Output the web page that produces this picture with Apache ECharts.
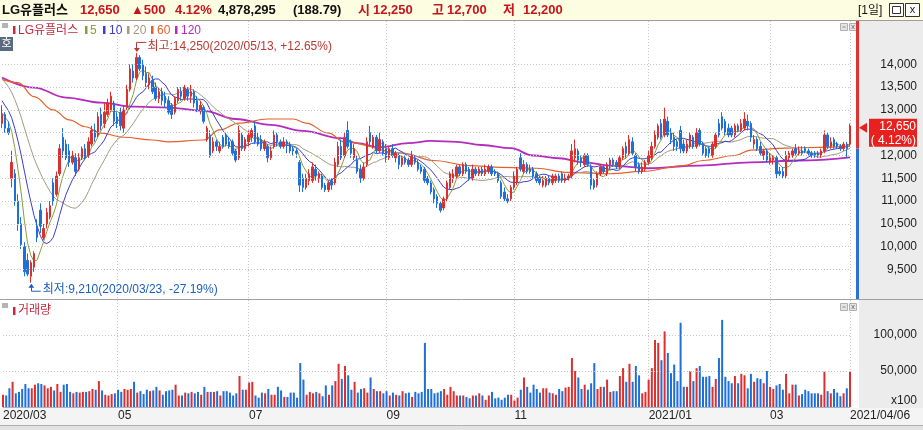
<!DOCTYPE html>
<html>
<head>
<meta charset="utf-8">
<script src="https://cdn.jsdelivr.net/npm/echarts@6/dist/echarts.min.js"></script>
<style>
html, body { margin: 0; padding: 0; background: #fff; }
#chart { width: 923px; height: 430px; }
</style>
</head>
<body>
<div id="chart"></div>
<script>
// trading calendar (KRX), 2020-03-10 .. 2021-04-06
const firstDay = '2020-03-10'
const lastDay = '2021-04-06'
const holidays = ['2020-04-15', '2020-04-30', '2020-05-01', '2020-05-05', '2020-08-17', '2020-09-30',
  '2020-10-01', '2020-10-02', '2020-10-09', '2020-12-25', '2020-12-31', '2021-01-01',
  '2021-02-11', '2021-02-12', '2021-03-01']

const stockName = 'LG유플러스'
const tradeVolume = 4878295
const volumeRatio = 188.79

// daily prices
const opens = [
  12700, 12900, 12600, 11500, 11600, 11000, 10500, 10000, 9700, 9350,
  9550, 10450, 10800, 10200, 10500, 10650, 11400, 11150, 11600, 12400,
  12250, 12100, 11850, 11950, 11700, 11950, 12150, 12000, 12250, 12550,
  12450, 12900, 12700, 12900, 13000, 13150, 12850, 12950, 12600, 13050,
  13450, 13850, 13700, 14150, 14000, 13800, 13550, 13650, 13500, 13250,
  13400, 13300, 13200, 13100, 12950, 13200, 13400, 13250, 13450, 13300,
  13400, 13200, 13000, 13050, 12350, 12450, 12100, 12300, 12100, 12400,
  12450, 12300, 12300, 12100, 11950, 12450, 12150, 12300, 12400, 12650,
  12400, 12350, 12150, 12200, 11950, 12200, 12450, 12300, 12200, 12300,
  12250, 12150, 12100, 11850, 11500, 11300, 11450, 11450, 11700, 11500,
  11550, 11350, 11250, 11450, 11400, 11800, 12200, 12000, 12550, 12300,
  11950, 11900, 11700, 11500, 11800, 12500, 12200, 12400, 12100, 12300,
  12150, 11950, 12150, 11950, 12000, 11800, 11950, 11900, 11800, 11950,
  11850, 11750, 11700, 11500, 11400, 11250, 11100, 10950, 10850, 11050,
  11300, 11500, 11550, 11750, 11600, 11800, 11700, 11500, 11700, 11600,
  11700, 11600, 11650, 11750, 11650, 11600, 11400, 11200, 11050, 11050,
  11300, 11400, 11950, 11650, 11800, 11700, 11700, 11600, 11500, 11350,
  11350, 11500, 11400, 11450, 11550, 11600, 11450, 11500, 11550, 11950,
  12100, 11950, 11800, 12000, 11750, 11450, 11350, 11600, 11750, 11600,
  11800, 11900, 11850, 11750, 11950, 12200, 12050, 12300, 12000, 11800,
  11650, 11700, 11850, 11950, 12200, 12400, 12700, 12450, 12750, 12500,
  12400, 12300, 12550, 12250, 12100, 12200, 12400, 12200, 12550, 12250,
  12150, 12150, 12000, 12200, 12700, 12850, 12750, 12600, 12600, 12450,
  12650, 12550, 12600, 12750, 12700, 12250, 12350, 12200, 12000, 12100,
  11850, 11900, 11950, 11650, 11650, 11550, 11950, 12000, 12150, 12050,
  12100, 12150, 12100, 12050, 12050, 12050, 12000, 12100, 12450, 12200,
  12350, 12250, 12200, 12150, 12250, 12250
]
const closes = [
  12900, 12600, 12500, 11850, 11000, 10500, 10050, 9450, 9400, 9650,
  9850, 10200, 10450, 10400, 10750, 10900, 11000, 11550, 12150, 12100,
  11950, 11850, 12000, 11650, 11950, 12150, 11950, 12300, 12550, 12400,
  12850, 12650, 12950, 13150, 13300, 12750, 12700, 12650, 13000, 13450,
  13900, 13700, 14150, 13900, 13750, 13600, 13700, 13400, 13250, 13400,
  13200, 13150, 12950, 12900, 13250, 13450, 13300, 13500, 13300, 13400,
  13150, 13000, 13100, 12750, 12600, 12000, 12300, 12200, 12200, 12200,
  12250, 12200, 12050, 11900, 12550, 12150, 12350, 12450, 12550, 12300,
  12250, 12150, 12300, 11950, 12100, 12450, 12300, 12200, 12300, 12250,
  12100, 12100, 12050, 11350, 11300, 11500, 11600, 11750, 11550, 11600,
  11300, 11250, 11400, 11350, 11850, 12200, 11950, 12400, 12200, 12050,
  12150, 11650, 11500, 11750, 12300, 12300, 12400, 12100, 12350, 12050,
  11950, 12150, 12000, 12050, 11800, 11950, 11850, 11800, 12000, 11850,
  11700, 11650, 11450, 11400, 11200, 11050, 10950, 10800, 11050, 11400,
  11600, 11600, 11750, 11600, 11800, 11650, 11500, 11700, 11600, 11700,
  11600, 11700, 11750, 11600, 11600, 11450, 11100, 11050, 11000, 11300,
  11550, 11700, 11700, 11800, 11650, 11650, 11550, 11450, 11400, 11450,
  11500, 11400, 11550, 11550, 11450, 11450, 11500, 11550, 12100, 12150,
  11900, 11850, 12000, 11800, 11350, 11300, 11600, 11750, 11650, 11800,
  11900, 11800, 11750, 11950, 12150, 12050, 12350, 12050, 11750, 11650,
  11750, 11850, 12000, 12200, 12450, 12650, 12400, 12800, 12450, 12350,
  12200, 12200, 12150, 12100, 12250, 12450, 12200, 12500, 12250, 12050,
  12000, 12050, 12250, 12450, 12450, 12600, 12500, 12450, 12450, 12650,
  12550, 12700, 12800, 12650, 12400, 12350, 12150, 12050, 12100, 11900,
  11950, 11950, 11600, 11600, 11550, 12000, 12050, 12100, 12050, 12100,
  12050, 12100, 12050, 12000, 12000, 12000, 12100, 12450, 12200, 12300,
  12200, 12200, 12150, 12250, 12150, 12650
]
const lows = [
  12600, 12500, 12450, 11300, 10900, 10350, 9950, 9350, 9350, 9210,
  9450, 10100, 10300, 10150, 10400, 10600, 10900, 11100, 11550, 11950,
  11900, 11750, 11800, 11550, 11650, 11900, 11900, 11950, 12200, 12300,
  12400, 12550, 12600, 12850, 12950, 12650, 12600, 12550, 12500, 13000,
  13400, 13600, 13650, 13850, 13650, 13500, 13450, 13350, 13200, 13150,
  13100, 13050, 12900, 12800, 12900, 13150, 13200, 13200, 13200, 13150,
  13050, 12950, 12900, 12700, 12300, 11950, 12050, 12100, 12050, 12150,
  12200, 12150, 12000, 11850, 11900, 12100, 12100, 12200, 12300, 12250,
  12200, 12100, 12100, 11850, 11900, 12150, 12200, 12150, 12150, 12050,
  12050, 12000, 11950, 11200, 11200, 11250, 11350, 11400, 11450, 11400,
  11250, 11200, 11200, 11250, 11350, 11750, 11900, 11950, 12150, 11950,
  11900, 11600, 11400, 11450, 11750, 12200, 12150, 12050, 12050, 12000,
  11850, 11900, 11950, 11850, 11700, 11750, 11800, 11750, 11750, 11800,
  11650, 11600, 11400, 11350, 11150, 10950, 10850, 10750, 10800, 11000,
  11250, 11400, 11500, 11550, 11550, 11600, 11450, 11450, 11550, 11550,
  11550, 11550, 11600, 11550, 11550, 11400, 11050, 11000, 10950, 11000,
  11250, 11350, 11650, 11600, 11600, 11600, 11500, 11400, 11350, 11300,
  11300, 11350, 11350, 11400, 11400, 11400, 11400, 11450, 11500, 11850,
  11800, 11750, 11750, 11750, 11250, 11250, 11300, 11550, 11600, 11550,
  11700, 11750, 11700, 11700, 11900, 11950, 12000, 12000, 11650, 11600,
  11600, 11650, 11800, 11900, 12150, 12350, 12350, 12400, 12400, 12250,
  12100, 12100, 12050, 12050, 12050, 12150, 12150, 12150, 12200, 12000,
  11950, 11950, 11950, 12150, 12400, 12550, 12450, 12400, 12400, 12400,
  12500, 12500, 12550, 12550, 12300, 12150, 12100, 12000, 11900, 11850,
  11800, 11800, 11500, 11550, 11500, 11500, 11900, 11950, 12000, 12000,
  12000, 12050, 12000, 11950, 11950, 11950, 11950, 12050, 12150, 12150,
  12150, 12150, 12100, 12100, 11950, 12200
]
const highs = [
  13100, 12950, 12750, 12100, 11700, 11150, 10650, 10100, 9850, 9700,
  9900, 10600, 10950, 10500, 10850, 11000, 11500, 11650, 12250, 12600,
  12350, 12250, 12100, 12050, 12050, 12200, 12250, 12400, 12650, 12700,
  12950, 13050, 13150, 13250, 13400, 13200, 12950, 13050, 13100, 13550,
  14000, 14000, 14250, 14200, 14100, 13950, 13800, 13750, 13600, 13500,
  13500, 13400, 13300, 13150, 13300, 13500, 13500, 13550, 13500, 13550,
  13450, 13300, 13200, 13100, 12650, 12550, 12400, 12350, 12300, 12450,
  12500, 12400, 12350, 12150, 12650, 12500, 12400, 12550, 12600, 12750,
  12500, 12450, 12350, 12250, 12200, 12550, 12500, 12350, 12400, 12350,
  12300, 12200, 12150, 11900, 11600, 11600, 11700, 11850, 11800, 11650,
  11600, 11400, 11450, 11500, 11950, 12300, 12350, 12500, 12750, 12350,
  12250, 12000, 11800, 11850, 12400, 12650, 12450, 12450, 12500, 12350,
  12250, 12200, 12250, 12100, 12050, 12000, 12000, 11950, 12100, 12000,
  11900, 11800, 11750, 11550, 11450, 11300, 11150, 11000, 11100, 11450,
  11650, 11700, 11800, 11800, 11850, 11850, 11750, 11800, 11750, 11750,
  11750, 11800, 11800, 11800, 11700, 11650, 11450, 11300, 11150, 11350,
  11650, 11750, 12050, 11900, 11850, 11800, 11750, 11650, 11550, 11550,
  11550, 11550, 11600, 11600, 11600, 11650, 11600, 11600, 12250, 12350,
  12150, 12000, 12050, 12050, 11800, 11500, 11650, 11800, 11800, 11850,
  11950, 11950, 11900, 12000, 12200, 12300, 12450, 12400, 12050, 11850,
  11850, 11900, 12100, 12300, 12550, 12700, 12800, 13050, 12850, 12600,
  12500, 12350, 12650, 12350, 12350, 12500, 12450, 12600, 12600, 12300,
  12200, 12200, 12300, 12500, 12800, 12950, 12800, 12700, 12650, 12700,
  12700, 12800, 12950, 12900, 12750, 12450, 12400, 12300, 12150, 12150,
  12050, 12000, 12000, 11750, 11750, 12100, 12100, 12150, 12250, 12200,
  12200, 12200, 12150, 12100, 12100, 12100, 12150, 12550, 12500, 12400,
  12400, 12300, 12250, 12300, 12300, 12700
]
// trading volume, thousands of the "x100" unit shown on the axis
const volumesK = [
  17, 16, 26, 35, 19, 21, 25, 32, 26, 26, 31, 33, 32, 30, 26, 28, 23, 32, 21, 31,
  32, 21, 19, 21, 20, 21, 21, 22, 25, 24, 36, 23, 17, 16, 18, 19, 24, 21, 25, 24,
  25, 35, 20, 22, 18, 24, 22, 23, 28, 23, 17, 22, 23, 24, 31, 16, 16, 20, 19, 21,
  19, 21, 17, 28, 21, 21, 21, 22, 16, 22, 22, 20, 16, 19, 43, 24, 24, 34, 35, 16,
  13, 20, 19, 25, 17, 17, 28, 23, 14, 14, 20, 20, 13, 61, 38, 17, 21, 19, 21, 19,
  15, 30, 17, 30, 36, 60, 39, 57, 44, 24, 35, 20, 25, 26, 20, 41, 25, 22, 22, 19,
  22, 16, 20, 17, 16, 22, 19, 20, 14, 21, 19, 21, 89, 25, 25, 19, 20, 22, 25, 17,
  28, 22, 16,
  16, 16, 14, 12, 16, 16, 19, 16, 10, 16, 21, 12, 13, 10, 13, 17, 17, 9, 13, 24,
  41, 28, 20, 31, 25, 20, 26, 26, 20, 19, 17, 25, 22, 27, 28, 68, 50, 41, 25, 31,
  24, 33, 61, 25, 28, 28, 38, 21, 22, 22, 43, 54, 35, 60, 35, 57, 44, 19, 21, 38,
  54, 93, 89, 65, 105, 75, 47, 59, 36, 117, 28, 28, 50, 36, 54, 57, 42, 42, 43, 28,
  39, 68, 121, 42, 36, 33, 43, 33, 46, 44, 26, 46, 35, 40, 39, 33, 50, 28, 25, 30,
  32, 24, 46, 19, 31, 31, 16, 18, 24, 22, 19, 19, 19, 17, 49, 22, 19, 25, 20, 15,
  19, 26, 49
]
// closes before the first visible day, only feed the short moving averages
const priorCloses = [14350, 14300, 14250, 14200, 14150, 14200, 14100, 14050, 14100, 14000,
  13700, 13550, 13400, 13350, 13300, 13100, 13000, 12900, 12800]
// long averages (bar index -> value)
const ma60At = [0, 5, 10, 16, 21, 26, 31, 38, 47, 52, 63, 68, 74, 83, 91, 95, 102, 107, 125, 135,
  146, 156, 167, 177, 190, 200, 213, 219, 229, 234, 245, 255, 265]
const ma60Val = [13670, 13600, 13290, 13000, 12780, 12630, 12490, 12400, 12340, 12300, 12340, 12560, 12710, 12800, 12800, 12710, 12490, 12300, 12050, 11890,
  11780, 11740, 11720, 11630, 11600, 11650, 11780, 11890, 12000, 12120, 12160, 12180, 12200]
const ma120At = [0, 10, 20, 31, 41, 52, 63, 73, 84, 94, 106, 111, 118, 127, 134, 142, 150, 159, 166, 174,
  182, 190, 202, 218, 234, 249, 265]
const ma120Val = [13710, 13490, 13270, 13160, 13070, 13050, 12980, 12800, 12670, 12540, 12380, 12270, 12180, 12270, 12320, 12300, 12230, 12160, 12000, 11940,
  11850, 11780, 11720, 11780, 11850, 11890, 11960]

const priceTicks = [9500, 10000, 10500, 11000, 11500, 12000, 12500, 13000, 13500, 14000]
const volumeTicks = [0, 50000, 100000]

const UP = '#de2f2f'
const DOWN = '#1f6fd8'
const GRID = '#c4c4c4'
const HEAD_RED = '#c8141e'
const FONT = '"Liberation Sans", "Noto Sans CJK KR", sans-serif'
const maColors = { 5: '#8a9c3c', 10: '#3c3ccf', 20: '#a39a86', 60: '#e5602b', 120: '#b42bc0' }

const dates = []
for (let d = new Date(firstDay + 'T00:00:00Z'); d <= new Date(lastDay + 'T00:00:00Z'); d.setUTCDate(d.getUTCDate() + 1)) {
  const s = d.toISOString().slice(0, 10)
  const wd = d.getUTCDay()
  if (wd === 0 || wd === 6 || holidays.includes(s)) continue
  dates.push(s)
}
;[opens, closes, lows, highs, volumesK].forEach((a, k) => {
  if (a.length !== dates.length) throw new Error('array ' + k + ' has ' + a.length + ' items, dates ' + dates.length)
})

const lastIdx = dates.length - 1
const markIdx = new Set()
dates.forEach((d, i) => {
  if (i === 0 || i === lastIdx) return markIdx.add(i)
  const m = +d.slice(5, 7)
  if (d.slice(5, 7) !== dates[i - 1].slice(5, 7) && m % 2 === 1) markIdx.add(i)
})
const dateLabel = i => {
  const d = dates[i]
  if (i === 0 || d.slice(5, 7) === '01') return d.slice(0, 7).replace('-', '/')
  if (i === lastIdx) return d.replace(/-/g, '/')
  return d.slice(5, 7)
}

const movingAverage = n => {
  const all = priorCloses.concat(closes)
  const off = priorCloses.length
  return closes.map((_, i) => {
    const end = off + i
    if (end - n + 1 < 0) return null
    let s = 0
    for (let k = end - n + 1; k <= end; k++) s += all[k]
    return Math.round(s / n)
  })
}
const sparse = (at, val) => {
  const out = dates.map(() => null)
  at.forEach((i, k) => { out[i] = val[k] })
  return out
}
const fmt = v => v.toLocaleString('en-US')

const candleData = dates.map((_, i) => [opens[i], closes[i], lows[i], highs[i]])
const volumeData = dates.map((_, i) => ({
  value: volumesK[i] * 1000,
  itemStyle: { color: closes[i] >= opens[i] ? UP : DOWN }
}))

const maLine = (name, data, color, width, extra) => Object.assign({
  name, type: 'line', xAxisIndex: 0, yAxisIndex: 0, data, symbol: 'none', silent: true,
  lineStyle: { color, width }, emphasis: { disabled: true }, z: 2
}, extra || {})

const hiddenCat = gridIndex => ({
  type: 'category', gridIndex, data: dates, boundaryGap: false,
  axisLine: { show: false }, axisTick: { show: false }, axisLabel: { show: false }, splitLine: { show: false }
})

const option = {
  animation: false,
  backgroundColor: '#fff',
  grid: [
    { left: 2, width: 848, top: 18.7, height: 273.6 },
    { left: 2, width: 848, top: 301, height: 106 },
    { left: 2, width: 848, top: 21, height: 386 }
  ],
  xAxis: [
    hiddenCat(0),
    {
      type: 'category', gridIndex: 1, data: dates, boundaryGap: false,
      axisLine: { show: true, lineStyle: { color: '#9fb3cf' } },
      axisTick: { show: false },
      splitLine: { show: false },
      axisLabel: {
        interval: i => markIdx.has(i),
        formatter: (v, i) => dateLabel(i),
        align: 'left', margin: 3, fontFamily: FONT, fontSize: 12, color: '#222'
      }
    },
    Object.assign(hiddenCat(2), {
      splitLine: { show: true, interval: i => markIdx.has(i) && i !== 0, lineStyle: { color: GRID, type: [1, 2], width: 1 } }
    })
  ],
  yAxis: [
    {
      type: 'value', gridIndex: 0, position: 'right', min: 9000, max: 15000, interval: 500,
      axisLine: { show: false }, axisTick: { show: false }, splitLine: { show: false },
      axisLabel: {
        formatter: v => priceTicks.includes(v) ? fmt(v) : '',
        align: 'right', margin: 67, fontFamily: FONT, fontSize: 12, color: '#222'
      }
    },
    {
      type: 'value', gridIndex: 1, position: 'right', min: 0, max: 147222, interval: 50000,
      axisLine: { show: false }, axisTick: { show: false }, splitLine: { show: false },
      axisLabel: {
        formatter: v => !volumeTicks.includes(v) ? '' : v === 0 ? '{u|x100}' : fmt(v),
        align: 'right', margin: 67, fontFamily: FONT, fontSize: 12, color: '#222',
        rich: { u: { fontFamily: FONT, fontSize: 12, color: '#222', padding: [0, 0, 12, 0] } }
      }
    },
    { type: 'value', gridIndex: 2, show: false }
  ],
  series: [
    maLine('MA120', sparse(ma120At, ma120Val), maColors[120], 1.8, { connectNulls: true, smooth: 0.4, smoothMonotone: 'x' }),
    maLine('MA60', sparse(ma60At, ma60Val), maColors[60], 1.2, { connectNulls: true, smooth: 0.4, smoothMonotone: 'x' }),
    maLine('MA20', movingAverage(20), maColors[20], 1),
    maLine('MA10', movingAverage(10), maColors[10], 1),
    maLine('MA5', movingAverage(5), maColors[5], 1),
    {
      name: stockName, type: 'candlestick', xAxisIndex: 0, yAxisIndex: 0, data: candleData,
      barWidth: 2, clip: false, silent: true, z: 3,
      itemStyle: { color: UP, color0: DOWN, borderColor: UP, borderColor0: DOWN, borderWidth: 1 },
      markLine: {
        silent: true, symbol: 'none', label: { show: false }, animation: false,
        lineStyle: { color: GRID, type: [1, 2], width: 1 },
        data: priceTicks.map(v => ({ yAxis: v }))
      }
    },
    {
      name: '거래량', type: 'bar', xAxisIndex: 1, yAxisIndex: 1, data: volumeData,
      barWidth: 2, clip: false, silent: true,
      markLine: {
        silent: true, symbol: 'none', label: { show: false }, animation: false,
        lineStyle: { color: GRID, type: [1, 2], width: 1 },
        data: volumeTicks.filter(v => v > 0).map(v => ({ yAxis: v }))
      }
    }
  ]
}

const chart = echarts.init(document.getElementById('chart'))
chart.setOption(option)

const text = (x, y, str, color, font, align, z) => ({
  type: 'text', z: z == null ? 20 : z,
  style: { text: str, x, y, fill: color, font, textAlign: align || 'left', align: align || 'left', textVerticalAlign: 'middle', verticalAlign: 'middle' }
})
const rect = (x, y, w, h, fill, z, stroke) => ({
  type: 'rect', z: z == null ? 20 : z, shape: { x, y, width: w, height: h },
  style: { fill, stroke: stroke || null, lineWidth: stroke ? 1 : 0 }
})
const line = (x1, y1, x2, y2, color, z) => ({
  type: 'line', z: z == null ? 20 : z, shape: { x1, y1, x2, y2 }, style: { stroke: color, lineWidth: 1 }
})
const poly = (points, fill, z) => ({ type: 'polygon', z: z == null ? 20 : z, shape: { points }, style: { fill } })

const buildGraphics = () => {
  const g = []
  const last = closes[lastIdx]
  const prev = closes[lastIdx - 1]
  const change = last - prev
  const pct = (change / prev * 100).toFixed(2)

  // frames and backgrounds
  g.push(rect(0, 0, 923, 20, '#fdfde1', -1))
  g.push(line(0, 20.5, 923, 20.5, '#9c9c9c', 30))
  g.push(rect(859, 21, 64, 387, '#ececec', -1))
  g.push(rect(0, 408, 923, 22, '#f4f4f4', -1))
  g.push(line(0, 425.5, 923, 425.5, '#b0b0b0', 30))
  g.push(rect(0, 426, 923, 4, '#e2e2e2', 30))
  g.push(line(0, 299.5, 923, 299.5, '#a0a0a0', 30))

  // header line
  const HB = 'bold 13px ' + FONT
  g.push(text(2, 10.5, stockName, '#111', HB))
  g.push(text(80, 10.5, fmt(last), HEAD_RED, HB))
  g.push(text(131, 10.5, '▲' + fmt(change), HEAD_RED, HB))
  g.push(text(175, 10.5, pct + '%', HEAD_RED, HB))
  g.push(text(218, 10.5, fmt(tradeVolume), '#111', HB))
  g.push(text(293, 10.5, '(' + volumeRatio.toFixed(2) + ')', '#111', HB))
  g.push(text(358, 10.5, '시', HEAD_RED, HB))
  g.push(text(373, 10.5, fmt(opens[lastIdx]), HEAD_RED, HB))
  g.push(text(432, 10.5, '고', HEAD_RED, HB))
  g.push(text(447, 10.5, fmt(highs[lastIdx]), HEAD_RED, HB))
  g.push(text(503, 10.5, '저', HEAD_RED, HB))
  g.push(text(523, 10.5, fmt(lows[lastIdx]), HEAD_RED, HB))
  g.push(text(858, 10.5, '[1일]', '#111', '12px ' + FONT))
  g.push(rect(889.5, 3.5, 14, 13, '#fff', 20, '#333'))
  g.push(rect(892.5, 6.5, 8, 7, '#fff', 21, '#333'))
  g.push(rect(905.5, 3.5, 14, 13, '#fff', 20, '#333'))
  g.push(text(912.5, 10, 'x', '#222', '11px ' + FONT, 'center'))

  // price legend
  const LF = '12px ' + FONT
  g.push(rect(2, 23, 6, 5, '#b4b4b4'))
  g.push(rect(13, 26, 2.5, 8, '#c8283c'))
  g.push(text(18, 30.5, stockName, '#c8283c', LF))
  ;[[85, 90, 5], [103, 109, 10], [127, 133, 20], [151, 157, 60], [175, 181, 120]].forEach(([bx, tx, n]) => {
    g.push(rect(bx, 26, 2.5, 8, maColors[n]))
    g.push(text(tx, 30.5, String(n), maColors[n], LF))
  })
  g.push(rect(0, 37, 13, 14, '#5b6b7e'))
  g.push(text(6.5, 44, '호', '#fff', '11px ' + FONT, 'center'))

  // volume legend
  g.push(rect(2, 303, 6, 5, '#b4b4b4'))
  g.push(rect(13, 307, 2.5, 8, '#c8283c'))
  g.push(text(18, 311, '거래량', '#c8283c', LF))

  // small panel buttons
  ;[23.5, 303.5].forEach(y => {
    g.push(rect(840.5, y, 7, 7, '#e4e4e4', 20, '#b0b0b0'))
    g.push(rect(849.5, y, 7, 7, '#e4e4e4', 20, '#b0b0b0'))
    g.push(line(842.5, y + 3.5, 845.5, y + 3.5, '#888'))
    g.push(line(851.5, y + 1.5, 854.5, y + 5.5, '#888'))
    g.push(line(854.5, y + 1.5, 851.5, y + 5.5, '#888'))
  })

  // red / blue side bar split at the previous close
  const yPrev = chart.convertToPixel({ yAxisIndex: 0 }, prev)
  g.push(rect(856, 21, 3, yPrev - 21, '#e03030', 25))
  g.push(rect(856, yPrev, 3, 299 - yPrev, '#2a70d8', 25))

  // last price tag
  const yLast = chart.convertToPixel({ yAxisIndex: 0 }, last)
  g.push(poly([[859, yLast + 2], [867, yLast - 3], [867, yLast + 7]], '#e8201e', 26))
  g.push(rect(869, yLast - 7, 48, 28, '#e8201e', 26))
  g.push(text(916, yLast + 0.5, fmt(last), '#fff', LF, 'right', 27))
  g.push(text(916, yLast + 14.5, '( ' + pct + '%)', '#fff', LF, 'right', 27))

  // highest / lowest markers
  const hiVal = Math.max(...highs)
  const hiIdx = highs.indexOf(hiVal)
  const loVal = Math.min(...lows)
  const loIdx = lows.indexOf(loVal)
  const rel = v => (v / last * 100 - 100).toFixed(2)
  const [hx, hy] = chart.convertToPixel({ gridIndex: 0 }, [hiIdx, hiVal])
  const HI = '#b83a32'
  g.push(line(Math.round(hx) + 0.5, hy - 10.5, Math.round(hx) + 0.5, hy - 4, HI))
  g.push(line(Math.round(hx) + 0.5, hy - 10.5, hx + 10, hy - 10.5, HI))
  g.push(poly([[hx - 2.5, hy - 5], [hx + 3.5, hy - 5], [hx + 0.5, hy - 1]], HI))
  g.push(text(hx + 11, hy - 6, '최고:' + fmt(hiVal) + '(' + dates[hiIdx].replace(/-/g, '/') + ', +' + rel(hiVal) + '%)', HI, LF))
  const [lx, ly] = chart.convertToPixel({ gridIndex: 0 }, [loIdx, loVal])
  const LO = '#1d5fbf'
  g.push(line(Math.round(lx) + 0.5, ly + 4, Math.round(lx) + 0.5, ly + 8.5, LO))
  g.push(line(Math.round(lx) + 0.5, ly + 8.5, lx + 10, ly + 8.5, LO))
  g.push(poly([[lx - 2.5, ly + 5], [lx + 3.5, ly + 5], [lx + 0.5, ly + 1]], LO))
  g.push(text(lx + 12, ly + 7, '최저:' + fmt(loVal) + '(' + dates[loIdx].replace(/-/g, '/') + ', ' + rel(loVal) + '%)', LO, LF))

  return g
}

chart.setOption({ graphic: { elements: buildGraphics() } })
</script>
</body>
</html>
